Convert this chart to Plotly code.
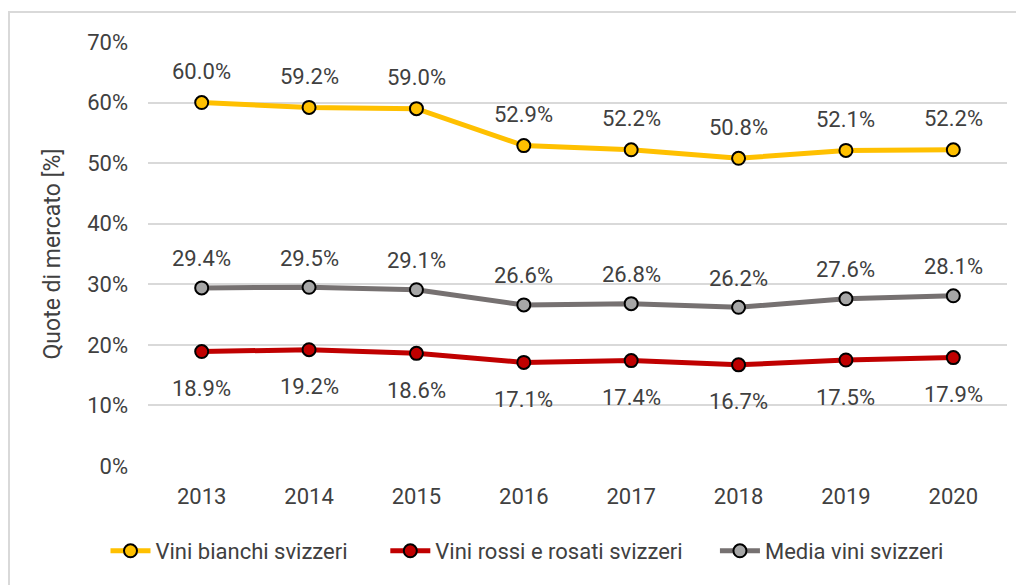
import plotly.graph_objects as go

years = ["2013", "2014", "2015", "2016", "2017", "2018", "2019", "2020"]
bianchi = [60.0, 59.2, 59.0, 52.9, 52.2, 50.8, 52.1, 52.2]
rossi = [18.9, 19.2, 18.6, 17.1, 17.4, 16.7, 17.5, 17.9]
media = [29.4, 29.5, 29.1, 26.6, 26.8, 26.2, 27.6, 28.1]
yticks = [0, 10, 20, 30, 40, 50, 60, 70]
names = ["Vini bianchi svizzeri", "Vini rossi e rosati svizzeri", "Media vini svizzeri"]

FONT = "Roboto, sans-serif"
TXT = "#404040"
FS = 22
NB = "\u00a0"
# page body has an 8px margin; size the figure so it fits the 1024x585 window
W, H = 1016, 577
L, R, T, B = 140, 17, 34, 119
pw, ph = W - L - R, H - T - B

fig = go.Figure()
series = [
    (names[0] + NB * 6, bianchi, "#FFC000", "#FFC000", 31),
    (names[1] + NB * 5, rossi, "#C00000", "#C00000", -37),
    (names[2], media, "#767171", "#A6A6A6", 29),
]
for name, vals, lc, mc, shift in series:
    fig.add_trace(go.Scatter(
        x=years, y=vals, name=name, mode="lines+markers",
        line=dict(color=lc, width=5),
        marker=dict(color=mc, size=13, line=dict(color="black", width=2)),
    ))
    for i, v in enumerate(vals):
        fig.add_annotation(x=i, y=v, xref="x", yref="y", text=f"{v:.1f}%",
                           showarrow=False, yshift=shift,
                           font=dict(family=FONT, size=FS, color=TXT))

fig.add_shape(type="rect", xref="paper", yref="paper",
              x0=(1 - L) / pw, x1=(W + 20 - L) / pw,
              y0=(H - B - H - 20) / ph, y1=(H - B - 4) / ph,
              line=dict(color="#D9D9D9", width=2), layer="below")

fig.update_layout(
    width=W, height=H,
    margin=dict(l=L, r=R, t=T, b=B),
    paper_bgcolor="white", plot_bgcolor="white",
    font=dict(family=FONT, size=FS, color=TXT),
    showlegend=True,
    legend=dict(orientation="h", x=(519 - L) / pw, xanchor="center",
                y=-85 / ph, yanchor="middle", itemwidth=40,
                font=dict(family=FONT, size=FS, color=TXT)),
    xaxis=dict(type="category", range=[-0.5, 7.5], showgrid=False,
               showline=False, ticks="", tickfont=dict(size=FS), ticklabelstandoff=15),
    yaxis=dict(range=[0, 70], tickvals=yticks, ticktext=[f"{t}%" for t in yticks],
               showgrid=True, gridcolor="#D9D9D9", gridwidth=2, zeroline=False,
               showline=False, ticks="", tickfont=dict(size=FS), ticklabelstandoff=19,
               title=dict(text="Quote di mercato [%]", font=dict(size=23), standoff=20)),
)

fig.write_html("out.html")
